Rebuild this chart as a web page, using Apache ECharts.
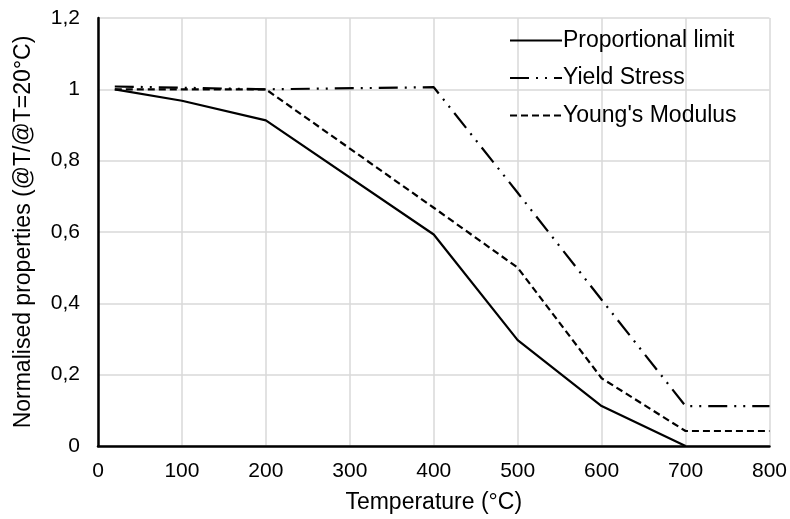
<!DOCTYPE html>
<html><head><meta charset="utf-8">
<script src="https://cdn.jsdelivr.net/npm/echarts@6/dist/echarts.min.js"></script>
<style>html,body{margin:0;padding:0;background:#fff}#c{width:790px;height:519px}</style>
</head><body><div id="c"></div>
<script>
const propLimit = [[20,1.0],[100,0.968],[200,0.913],[400,0.593],[500,0.297],[600,0.112],[700,0.0]];
const yieldStress = [[20,1.008],[200,1.0],[400,1.006],[500,0.71],[600,0.41],[700,0.112],[800,0.112]];
const youngsModulus = [[20,1.0],[200,1.0],[400,0.668],[500,0.5],[600,0.19],[700,0.042],[800,0.042]];
const seriesNames = ['Proportional limit','Yield Stress',"Young's Modulus"];
const font = '"Liberation Sans", Arial, sans-serif';
const chart = echarts.init(document.getElementById('c'));
chart.setOption({
  animation:false,
  grid:{left:98,right:20,top:18,bottom:72},
  legend:{
    orient:'vertical', left:504, top:24, itemWidth:52, itemHeight:12, itemGap:14.5,
    itemStyle:{opacity:0},
    textStyle:{fontFamily:font,fontSize:23,color:'#000',padding:[0,0,0,-4]},
    data:seriesNames
  },
  xAxis:{type:'value',min:0,max:800,interval:100,
    name:'Temperature (°C)',nameLocation:'middle',nameGap:45,
    nameTextStyle:{fontFamily:font,fontSize:23,color:'#000'},
    axisLine:{lineStyle:{color:'#000',width:2.5}},axisTick:{show:false},
    axisLabel:{fontFamily:font,fontSize:21,color:'#000',margin:15},
    splitLine:{show:true,lineStyle:{color:'#d9d9d9',width:1.5}}},
  yAxis:{type:'value',min:0,max:1.2,interval:0.2,
    name:'Normalised properties (@T/@T=20°C)',nameLocation:'middle',nameGap:63,
    nameTextStyle:{fontFamily:font,fontSize:23,color:'#000'},
    axisLine:{show:true,lineStyle:{color:'#000',width:2.5}},axisTick:{show:false},
    axisLabel:{fontFamily:font,fontSize:21,color:'#000',margin:18,
      formatter:v=>String(Math.round(v*10)/10).replace('.',',')},
    splitLine:{show:true,lineStyle:{color:'#d9d9d9',width:1.5}}},
  series:[
    {name:seriesNames[0],type:'line',data:propLimit,showSymbol:false,symbol:'none',
      lineStyle:{color:'#000',width:2.2,type:'solid'},itemStyle:{color:'#000'}},
    {name:seriesNames[1],type:'line',data:yieldStress,showSymbol:false,symbol:'none',
      lineStyle:{color:'#000',width:2.2,type:[19,7,2,7,2,7]},itemStyle:{color:'#000'}},
    {name:seriesNames[2],type:'line',data:youngsModulus,showSymbol:false,symbol:'none',
      lineStyle:{color:'#000',width:2.2,type:[7,4]},itemStyle:{color:'#000'}}
  ]
});
</script></body></html>
